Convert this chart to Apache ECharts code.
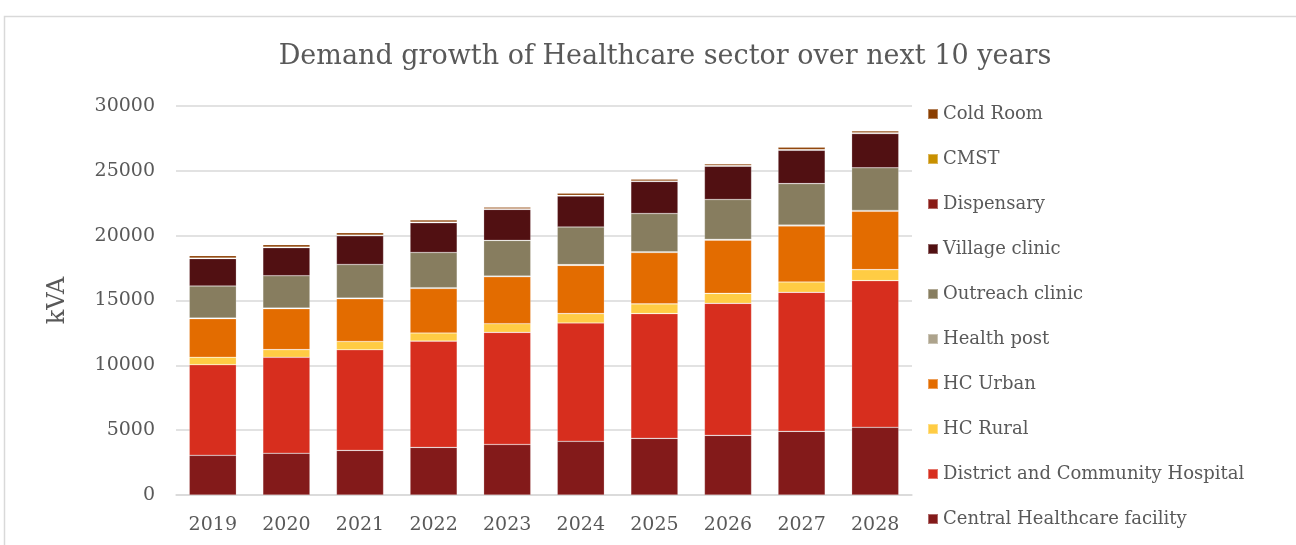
<!DOCTYPE html>
<html>
<head>
<meta charset="utf-8">
<script src="https://cdn.jsdelivr.net/npm/echarts@6/dist/echarts.min.js"></script>
<style>
html,body{margin:0;padding:0;background:#fff;}
#chart{width:1296px;height:545px;}
</style>
</head>
<body>
<div id="chart"></div>
<script>
const years = ['2019','2020','2021','2022','2023','2024','2025','2026','2027','2028'];
const centralHealthcare = [3060, 3220, 3440, 3670, 3900, 4140, 4370, 4600, 4910, 5220];
const districtHospital = [6990, 7400, 7760, 8200, 8640, 9130, 9620, 10180, 10720, 11310];
const hcRural = [570, 590, 640, 620, 670, 720, 750, 770, 800, 850];
const hcUrban = [2980, 3160, 3290, 3440, 3620, 3720, 3960, 4110, 4320, 4500];
const healthPost = [50, 50, 50, 55, 55, 60, 60, 60, 65, 65];
const outreachClinic = [2470, 2490, 2600, 2720, 2750, 2900, 2950, 3070, 3200, 3290];
const villageClinic = [2110, 2160, 2210, 2290, 2390, 2390, 2470, 2570, 2570, 2640];
const dispensary = [30, 30, 30, 30, 25, 30, 25, 25, 30, 30];
const cmst = [20, 20, 20, 20, 15, 20, 15, 15, 20, 20];
const coldRoom = [180, 180, 180, 160, 140, 160, 140, 140, 180, 160];
const yTicks = {min: 0, max: 30000, interval: 5000};

const seriesDefs = [
  ['Central Healthcare facility', centralHealthcare, '#831A1A'],
  ['District and Community Hospital', districtHospital, '#D72E1E'],
  ['HC Rural', hcRural, '#FFCC44'],
  ['HC Urban', hcUrban, '#E36C00'],
  ['Health post', healthPost, '#ADA38C'],
  ['Outreach clinic', outreachClinic, '#877D5F'],
  ['Village clinic', villageClinic, '#511012'],
  ['Dispensary', dispensary, '#8A1B16'],
  ['CMST', cmst, '#C89000'],
  ['Cold Room', coldRoom, '#8B3E00']
];

const font = '"DejaVu Serif", "Liberation Serif", serif';
const chart = echarts.init(document.getElementById('chart'));
chart.setOption({
  animation: false,
  backgroundColor: '#ffffff',
  title: {
    text: 'Demand growth of Healthcare sector over next 10 years',
    left: 660, top: 38, textAlign: 'center',
    textStyle: {fontFamily: font, fontSize: 27, fontWeight: 'normal', color: '#595959'}
  },
  graphic: [{
    type: 'rect', silent: true, z: -1,
    shape: {x: 4.5, y: 16.5, width: 1400, height: 700},
    style: {fill: 'none', stroke: '#D9D9D9', lineWidth: 1.5}
  }],
  grid: {left: 176, right: 1296 - 912, top: 106, bottom: 545 - 495, containLabel: false},
  legend: {
    orient: 'vertical', left: 922, top: 99,
    data: seriesDefs.map(d => d[0]).reverse(),
    icon: 'rect', itemWidth: 10, itemHeight: 10, itemGap: 25,
    textStyle: {fontFamily: font, fontSize: 18, color: '#595959', lineHeight: 20},
    selectedMode: false
  },
  xAxis: {
    type: 'category', data: years,
    axisTick: {show: false},
    axisLine: {lineStyle: {color: '#D9D9D9', width: 1.5}},
    axisLabel: {fontFamily: font, fontSize: 19, color: '#595959', margin: 21}
  },
  yAxis: {
    type: 'value', min: yTicks.min, max: yTicks.max, interval: yTicks.interval,
    name: 'kVA', nameLocation: 'middle', nameGap: 106, nameRotate: 90,
    nameTextStyle: {fontFamily: font, fontSize: 24, color: '#595959'},
    axisLine: {show: false}, axisTick: {show: false},
    axisLabel: {fontFamily: font, fontSize: 19, color: '#595959', margin: 21,
      formatter: v => String(v)},
    splitLine: {lineStyle: {color: '#D9D9D9', width: 1.5}}
  },
  series: seriesDefs.map(d => ({
    name: d[0], type: 'bar', stack: 'total', data: d[1],
    barCategoryGap: '36%',
    itemStyle: {color: d[2], borderColor: 'rgba(255,255,255,0.35)', borderWidth: 0.6}
  }))
});
</script>
</body>
</html>
